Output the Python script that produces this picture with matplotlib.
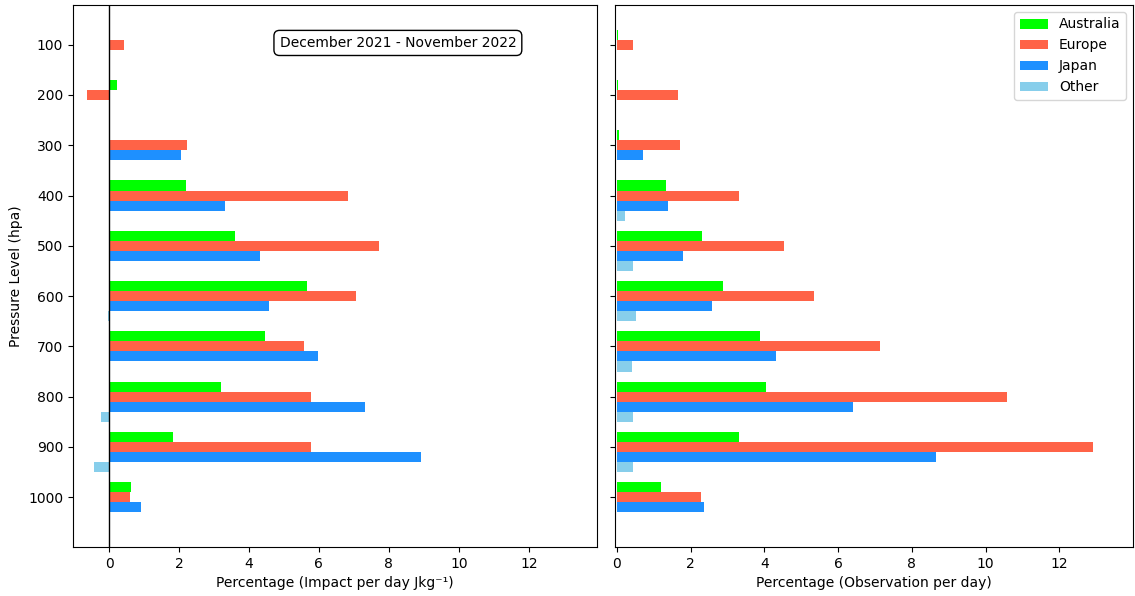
import matplotlib.pyplot as plt
import numpy as np

levels = [100, 200, 300, 400, 500, 600, 700, 800, 900, 1000]
regions = ["Australia", "Europe", "Japan", "Other"]
colours = ["lime", "tomato", "dodgerblue", "skyblue"]

# impact per day (percentage)
impact = {
    "Australia": [0.02, 0.23, 0.03, 2.20, 3.59, 5.65, 4.47, 3.19, 1.82, 0.64],
    "Europe":    [0.42, -0.62, 2.23, 6.84, 7.71, 7.07, 5.57, 5.78, 5.77, 0.61],
    "Japan":     [0.0, 0.0, 2.05, 3.32, 4.33, 4.58, 5.96, 7.31, 8.92, 0.91],
    "Other":     [0.0, 0.0, 0.0, 0.0, 0.0, -0.03, 0.01, -0.24, -0.44, 0.0],
}

# observations per day (percentage)
obs = {
    "Australia": [0.03, 0.03, 0.07, 1.32, 2.32, 2.89, 3.88, 4.05, 3.30, 1.21],
    "Europe":    [0.43, 1.66, 1.72, 3.31, 4.53, 5.36, 7.13, 10.59, 12.92, 2.28],
    "Japan":     [0.0, 0.0, 0.72, 1.38, 1.79, 2.58, 4.33, 6.41, 8.65, 2.37],
    "Other":     [0.0, 0.0, 0.01, 0.21, 0.43, 0.52, 0.40, 0.43, 0.43, 0.0],
}

offsets = [-20, 0, 20, 40]
bh = 20

fig = plt.figure(figsize=(11.35, 5.96), dpi=100)
W, H = 1135, 596
ax1 = fig.add_axes([73 / W, 49 / H, 524 / W, 542 / H])
ax2 = fig.add_axes([615 / W, 49 / H, 518 / W, 542 / H], sharey=ax1)

y = np.array(levels)
for r, c, off in zip(regions, colours, offsets):
    ax1.barh(y + off, impact[r], height=bh, color=c, label=r)
    ax2.barh(y + off, obs[r], height=bh, color=c, label=r)

ax1.axvline(0, color="black", linewidth=1)
ax1.set_xlim(-1.03, 13.95)
ax2.set_xlim(-0.05, 14.0)
ax1.set_xticks([0, 2, 4, 6, 8, 10, 12])
ax2.set_xticks([0, 2, 4, 6, 8, 10, 12])
ax1.set_yticks(levels)
ax1.invert_yaxis()
ax2.tick_params(labelleft=False)

ax1.set_ylabel("Pressure Level (hpa)")
ax1.set_xlabel("Percentage (Impact per day Jkg\u207b\u00b9)")
ax2.set_xlabel("Percentage (Observation per day)")

ax1.text(0.62, 0.93, "December 2021 - November 2022", transform=ax1.transAxes,
         ha="center", va="center", fontsize=10,
         bbox=dict(boxstyle="round,pad=0.4", facecolor="white", edgecolor="black"))

ax2.legend(loc="upper right")

plt.savefig("out.png")
